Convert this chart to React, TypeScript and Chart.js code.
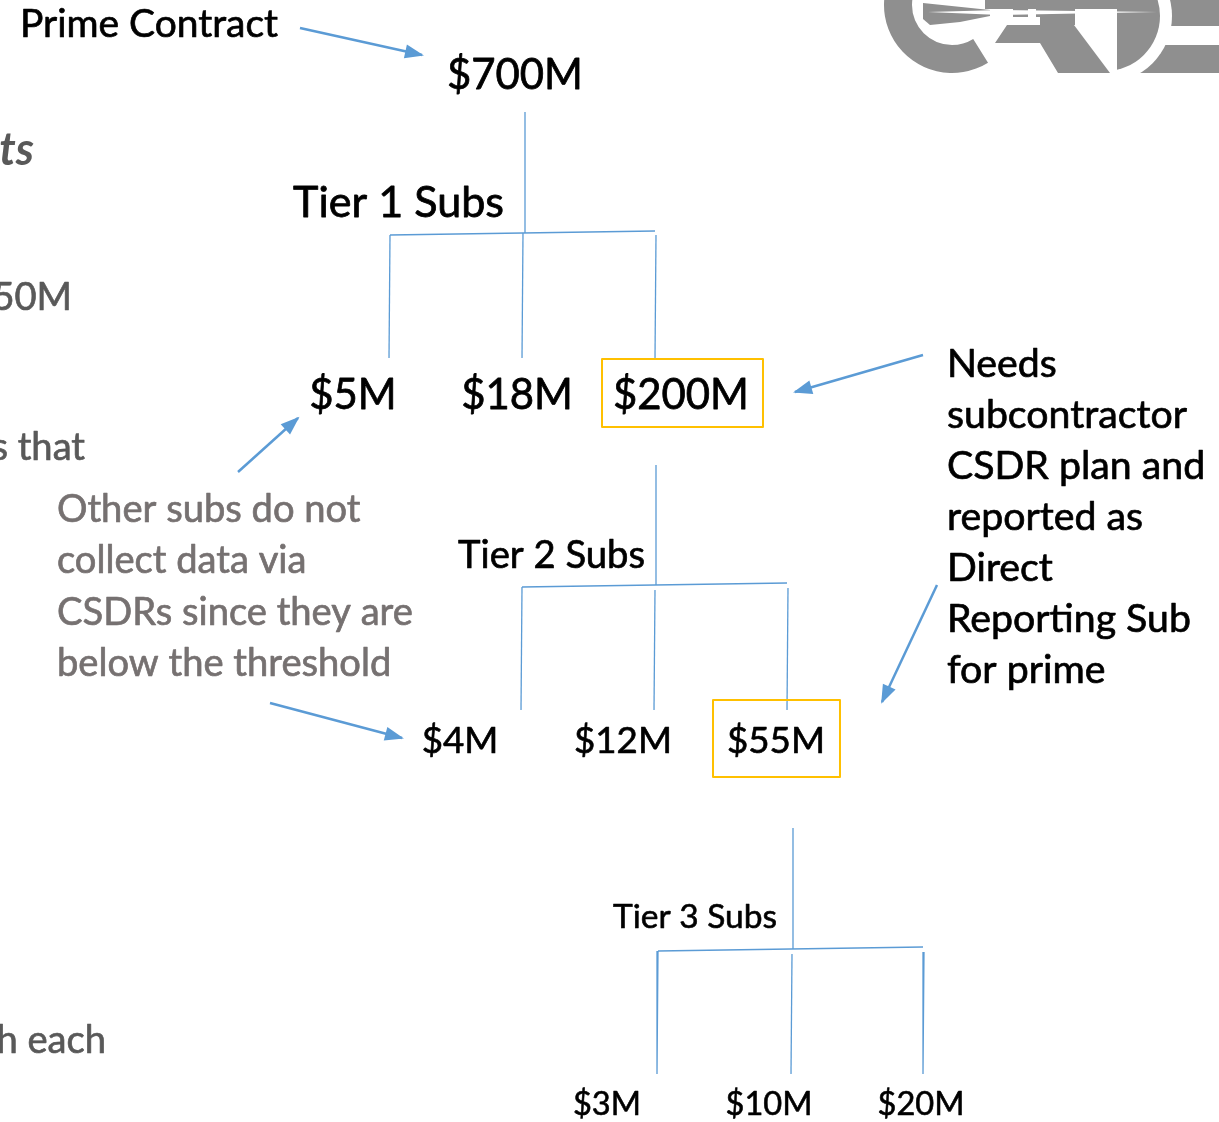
import React, { useEffect, useRef } from "react";
import { Chart, registerables } from "chart.js";
Chart.register(...registerables);

const W = 1219;
const H = 1122;

// ---------------- data ----------------
const primeValueM = 700;
const tier1ValuesM = [5, 18, 200];
const tier2ValuesM = [4, 12, 55];
const tier3ValuesM = [3, 10, 20];
const tierValues = [tier1ValuesM, tier2ValuesM, tier3ValuesM];
const tierNames = ["Tier 1 Subs", "Tier 2 Subs", "Tier 3 Subs"];
const directReportThresholdM = 50;
const primeCaption = "Prime Contract";
const directReportingNote = [
  "Needs",
  "subcontractor",
  "CSDR plan and",
  "reported as",
  "Direct",
  "Reporting Sub",
  "for prime",
];
const belowThresholdNote = [
  "Other subs do not",
  "collect data via",
  "CSDRs since they are",
  "below the threshold",
];
const slideEdgeFragments = ["50M", "s that", "h each"];
const slideEdgeTitleFragment = "ts";

const money = (v: number) => `$${v}M`;

// ---------------- layout & style ----------------
const FONT = "Lato, 'Open Sans', sans-serif";
const LINE = "#5B9BD5";
const BOX = "#FFC000";
const INK = "#000000";
const NOTE_GRAY = "#767171";
const EDGE_GRAY = "#595959";
const LOGO_GRAY = "#8f8f8f";
const EMBOLDEN = 0.018;

const primeLayout = { cx: 515, baseline: 89, width: 136 };
const tierLayouts = [
  {
    stemX: 525, stemTop: 112,
    barLeft: 390, barYL: 235, barRight: 655, barYR: 231,
    childX: [390, 523, 656], dropGap: [0, 0, 4], dropBottom: 358, lean: 1,
    labelRight: 504, labelBaseline: 217, labelWidth: 211,
    nodeCx: [353, 517, 681], nodeBaseline: 409, nodeWidth: 136,
    boxPadL: 11, boxPadR: 14, boxTop: 359, boxBottom: 427,
  },
  {
    stemX: 656, stemTop: 465,
    barLeft: 522, barYL: 587, barRight: 787, barYR: 583,
    childX: [522, 655, 788], dropGap: [0, 5, 5], dropBottom: 710, lean: 1,
    labelRight: 645, labelBaseline: 568, labelWidth: 187,
    nodeCx: [460, 623, 776], nodeBaseline: 753, nodeWidth: 98,
    boxPadL: 14, boxPadR: 15, boxTop: 700, boxBottom: 777,
  },
  {
    stemX: 793, stemTop: 828,
    barLeft: 658, barYL: 951, barRight: 923, barYR: 947,
    childX: [658, 792, 924], dropGap: [0, 5, 5], dropBottom: 1074, lean: 1,
    labelRight: 777, labelBaseline: 928, labelWidth: 164,
    nodeCx: [607, 769, 921], nodeBaseline: 1115, nodeWidth: 87,
    boxPadL: 12, boxPadR: 12, boxTop: 1070, boxBottom: 1122,
  },
];
const arrowLayouts = [
  [300, 28, 422, 55],
  [923, 355, 795, 392],
  [937, 585, 882, 702],
  [238, 472, 298, 418],
  [270, 703, 402, 738],
];
const captionLayout = { left: 20, baseline: 37, width: 258 };
const rightNoteLayout = { left: 947, baseline: 377, step: 51, fitLine: 1, fitWidth: 240 };
const leftNoteLayout = { left: 57, baseline: 522, step: 51.3, fitLine: 2, fitWidth: 356 };
const edgeLayouts = [
  { right: 72, baseline: 310 },
  { right: 85, baseline: 460 },
  { right: 106, baseline: 1053 },
];
const edgeTitleLayout = { right: 34, baseline: 165, size: 45 };

// ---------------- helpers ----------------
function fitSize(ctx: CanvasRenderingContext2D, s: string, target: number, style = "") {
  ctx.font = `${style} 100px ${FONT}`;
  return (100 * target) / ctx.measureText(s).width;
}
function drawText(
  ctx: CanvasRenderingContext2D, s: string, x: number, y: number, size: number,
  align: CanvasTextAlign, color: string, style = "", embolden = true
) {
  ctx.font = `${style} ${size}px ${FONT}`;
  ctx.textAlign = align;
  ctx.textBaseline = "alphabetic";
  ctx.fillStyle = color;
  ctx.fillText(s, x, y);
  if (embolden) {
    ctx.strokeStyle = color;
    ctx.lineJoin = "round";
    ctx.lineWidth = size * EMBOLDEN;
    ctx.strokeText(s, x, y);
  }
}
const rad = (d: number) => (d * Math.PI) / 180;

function drawLogo(ctx: CanvasRenderingContext2D, X: (v: number) => number, Y: (v: number) => number) {
  ctx.save();
  ctx.fillStyle = LOGO_GRAY;
  // right bars
  ctx.fillRect(X(1160), Y(0), X(1219) - X(1160), Y(26) - Y(0));
  ctx.fillRect(X(1125), Y(45), X(1219) - X(1125), Y(73) - Y(45));
  // white ring carve
  ctx.fillStyle = "#ffffff";
  ctx.beginPath();
  ctx.arc(X(1105), Y(16), 67, 0, Math.PI * 2);
  ctx.fill();
  // top band
  ctx.fillStyle = LOGO_GRAY;
  ctx.fillRect(X(985), Y(0), X(1150) - X(985), Y(9) - Y(0));
  // D shape
  ctx.save();
  ctx.beginPath();
  ctx.rect(X(1117), Y(0), 100, 80);
  ctx.clip();
  ctx.beginPath();
  ctx.arc(X(1105), Y(16), 55, 0, Math.PI * 2);
  ctx.fill();
  ctx.restore();
  // block under streak
  ctx.fillRect(X(1040), Y(9), X(1075) - X(1040), Y(25) - Y(9));
  // middle slanted block
  ctx.beginPath();
  ctx.moveTo(X(995), Y(43));
  ctx.lineTo(X(1007), Y(25));
  ctx.lineTo(X(1074), Y(25));
  ctx.lineTo(X(1110), Y(73));
  ctx.lineTo(X(1058), Y(73));
  ctx.lineTo(X(1040), Y(43));
  ctx.closePath();
  ctx.fill();
  // C ring
  const cx = X(952), cy = Y(5);
  ctx.beginPath();
  ctx.arc(cx, cy, 68, rad(58), rad(270), false);
  ctx.arc(cx, cy, 40, rad(270), rad(58), true);
  ctx.closePath();
  ctx.fill();
  // wing inside C
  ctx.beginPath();
  ctx.moveTo(X(923), Y(3));
  ctx.lineTo(X(990), Y(10));
  ctx.lineTo(X(990), Y(16));
  ctx.lineTo(X(960), Y(22));
  ctx.lineTo(X(930), Y(25));
  ctx.lineTo(X(923), Y(19));
  ctx.closePath();
  ctx.fill();
  // tail boxes
  ctx.fillRect(X(1013), Y(9), X(1028) - X(1013), Y(17) - Y(9));
  ctx.fillRect(X(1036), Y(9), X(1050) - X(1036), Y(17) - Y(9));
  // white dart streak
  ctx.fillStyle = "#ffffff";
  ctx.beginPath();
  ctx.moveTo(X(928), Y(12));
  ctx.lineTo(X(1000), Y(10));
  ctx.lineTo(X(1157), Y(12));
  ctx.lineTo(X(1000), Y(15));
  ctx.closePath();
  ctx.fill();
  ctx.restore();
}

// ---------------- datasets ----------------
function seg(x1: number, y1: number, x2: number, y2: number, width = 1.3, extra: any = {}) {
  return {
    data: [{ x: x1, y: y1 }, { x: x2, y: y2 }],
    showLine: true,
    borderColor: LINE,
    backgroundColor: LINE,
    borderWidth: width,
    pointRadius: 0,
    pointHoverRadius: 0,
    tension: 0,
    fill: false,
    ...extra,
  };
}

function buildDatasets() {
  const ds: any[] = [];
  tierValues.forEach((values, t) => {
    const L = tierLayouts[t];
    const barY = (x: number) => L.barYL + ((L.barYR - L.barYL) * (x - L.barLeft)) / (L.barRight - L.barLeft);
    ds.push(seg(L.stemX, L.stemTop, L.stemX, barY(L.stemX)));
    ds.push(seg(L.barLeft, L.barYL, L.barRight, L.barYR));
    values.forEach((_, i) => {
      const x = L.childX[i];
      ds.push(seg(x, barY(x) + L.dropGap[i], x - L.lean, L.dropBottom));
    });
  });
  arrowLayouts.forEach(([x1, y1, x2, y2]) => {
    ds.push(seg(x1, y1, x2, y2, 2.5, { arrow: true }));
  });
  return ds;
}

const diagramPlugin = {
  id: "diagram",
  beforeDatasetsDraw(chart: any) {
    const { ctx, scales } = chart;
    const X = (v: number) => scales.x.getPixelForValue(v);
    const Y = (v: number) => scales.y.getPixelForValue(v);
    drawLogo(ctx, X, Y);
  },
  afterDatasetsDraw(chart: any) {
    const { ctx, scales } = chart;
    const X = (v: number) => scales.x.getPixelForValue(v);
    const Y = (v: number) => scales.y.getPixelForValue(v);
    ctx.save();

    // arrowheads
    chart.data.datasets.forEach((d: any, i: number) => {
      if (!d.arrow) return;
      const pts = chart.getDatasetMeta(i).data;
      const a = pts[pts.length - 2];
      const b = pts[pts.length - 1];
      const ang = Math.atan2(b.y - a.y, b.x - a.x);
      const c = Math.cos(ang), s = Math.sin(ang);
      const len = 17, hw = 7;
      ctx.beginPath();
      ctx.moveTo(b.x + c * 2, b.y + s * 2);
      ctx.lineTo(b.x - len * c + hw * s, b.y - len * s - hw * c);
      ctx.lineTo(b.x - len * c - hw * s, b.y - len * s + hw * c);
      ctx.closePath();
      ctx.fillStyle = LINE;
      ctx.fill();
    });

    // prime
    const primeText = money(primeValueM);
    const pSize = fitSize(ctx, primeText, primeLayout.width);
    drawText(ctx, primeText, X(primeLayout.cx), Y(primeLayout.baseline), pSize, "center", INK);

    // caption
    const capSize = fitSize(ctx, primeCaption, captionLayout.width);
    drawText(ctx, primeCaption, X(captionLayout.left), Y(captionLayout.baseline), capSize, "left", INK);

    // tiers
    tierValues.forEach((values, t) => {
      const L = tierLayouts[t];
      const lSize = fitSize(ctx, tierNames[t], L.labelWidth);
      drawText(ctx, tierNames[t], X(L.labelRight), Y(L.labelBaseline), lSize, "right", INK);
      const widest = values.map(money).reduce((a, b) => (b.length > a.length ? b : a));
      const nSize = fitSize(ctx, widest, L.nodeWidth);
      values.forEach((v, i) => {
        const s = money(v);
        drawText(ctx, s, X(L.nodeCx[i]), Y(L.nodeBaseline), nSize, "center", INK);
        if (v >= directReportThresholdM) {
          ctx.font = `${nSize}px ${FONT}`;
          const w = ctx.measureText(s).width;
          const left = X(L.nodeCx[i]) - w / 2 - L.boxPadL;
          const right = X(L.nodeCx[i]) + w / 2 + L.boxPadR;
          ctx.strokeStyle = BOX;
          ctx.lineWidth = 2;
          ctx.strokeRect(left, Y(L.boxTop), right - left, Y(L.boxBottom) - Y(L.boxTop));
        }
      });
    });

    // right note
    const rSize = fitSize(ctx, directReportingNote[rightNoteLayout.fitLine], rightNoteLayout.fitWidth);
    directReportingNote.forEach((line, i) => {
      drawText(ctx, line, X(rightNoteLayout.left), Y(rightNoteLayout.baseline + i * rightNoteLayout.step), rSize, "left", INK);
    });

    // left note
    const gSize = fitSize(ctx, belowThresholdNote[leftNoteLayout.fitLine], leftNoteLayout.fitWidth);
    belowThresholdNote.forEach((line, i) => {
      drawText(ctx, line, X(leftNoteLayout.left), Y(leftNoteLayout.baseline + i * leftNoteLayout.step), gSize, "left", NOTE_GRAY);
    });

    // cropped slide text at left edge
    slideEdgeFragments.forEach((s, i) => {
      const e = edgeLayouts[i];
      drawText(ctx, s, X(e.right), Y(e.baseline), gSize, "right", EDGE_GRAY);
    });
    drawText(ctx, slideEdgeTitleFragment, X(edgeTitleLayout.right), Y(edgeTitleLayout.baseline), edgeTitleLayout.size, "right", EDGE_GRAY, "italic bold", false);

    ctx.restore();
  },
};

export default function App() {
  const ref = useRef<HTMLCanvasElement | null>(null);
  useEffect(() => {
    if (!ref.current) return;
    const chart = new Chart(ref.current, {
      type: "scatter",
      data: { datasets: buildDatasets() },
      options: {
        animation: false,
        responsive: false,
        events: [],
        layout: { padding: 0 },
        scales: {
          x: { type: "linear", min: 0, max: W, display: false },
          y: { type: "linear", min: 0, max: H, reverse: true, display: false },
        },
        plugins: { legend: { display: false }, tooltip: { enabled: false } },
      },
      plugins: [diagramPlugin],
    } as any);
    return () => chart.destroy();
  }, []);
  return (
    <div style={{ position: "fixed", left: 0, top: 0, width: W, height: H, background: "#ffffff" }}>
      <canvas ref={ref} width={W} height={H} style={{ display: "block" }} />
    </div>
  );
}
